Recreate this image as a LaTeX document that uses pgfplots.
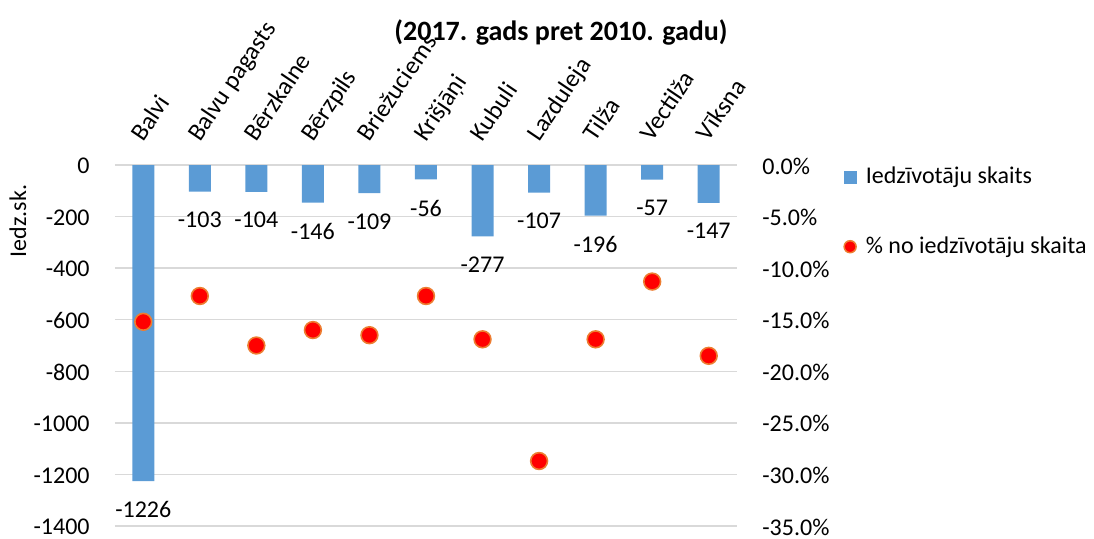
\documentclass[border=0pt]{standalone}
\usepackage{fontspec}
\setmainfont{Carlito}
\usepackage{pgfplots}
\pgfplotsset{compat=1.18}
\definecolor{barblue}{HTML}{5B9BD5}
\definecolor{dotorange}{HTML}{ED7D31}
\definecolor{gridgray}{HTML}{D9D9D9}
\pgfplotsset{/pgf/number format/assume math mode=true, /pgf/number format/1000 sep={}}
\begin{document}
\begin{tikzpicture}[font=\fontsize{12pt}{14pt}\selectfont]
\useasboundingbox (-57.5pt,-6pt) rectangle (489.5pt,263pt);
\begin{axis}[
  at={(0pt,0pt)}, anchor=south west,
  scale only axis, width=311pt, height=180.5pt,
  xmin=-0.5, xmax=10.5, ymin=-1400, ymax=0,
  ytick={-1400,-1200,...,0},
  xtick={0,...,10},
  xticklabels={Balvi, Balvu pagasts, Bērzkalne, Bērzpils, Briežuciems, Krišjāņi, Kubuli, Lazduleja, Tilža, Vectilža, Vīksna},
  xticklabel pos=right,
  xticklabel shift=11pt,
  x tick label style={rotate=56, anchor=base west, inner sep=0pt, font=\fontsize{12.5pt}{14pt}\selectfont},
  y tick label style={anchor=east, inner sep=0pt, xshift=-12.5pt, yshift=-0.5pt},
  axis line style={draw=none},
  major tick length=0pt,
  ymajorgrids, grid style={gridgray, line width=0.75pt},
  ylabel={Iedz.sk.},
  ylabel style={at={(axis description cs:-0.156,0.845)}, anchor=center},
  legend style={at={(axis description cs:1.1704,0.995)}, anchor=north west, draw=none, fill=none,
    inner sep=0pt, row sep=25pt, nodes={inner sep=0pt, anchor=west},
    /tikz/every odd column/.append style={column sep=4.5pt}},
  legend cell align=left,
]
\addplot[ybar, bar width=11pt, bar shift=0pt, fill=barblue, draw=none,
  nodes near coords, nodes near coords style={anchor=north, yshift=-10pt, black, inner sep=0pt},
  legend image code/.code={\fill[barblue] (0pt,-3.25pt) rectangle (6.5pt,3.25pt);}]
  coordinates {(0,-1226) (1,-103) (2,-104) (3,-146) (4,-109) (5,-56) (6,-277) (7,-107) (8,-196) (9,-57) (10,-147)};
\addlegendentry{Iedzīvotāju skaits}
\addlegendimage{legend image code/.code={\draw[fill=red, draw=dotorange, line width=0.75pt] (3.25pt,0pt) circle (3pt);}}
\addlegendentry{\% no iedzīvotāju skaita}
\end{axis}
\begin{axis}[
  at={(0pt,0pt)}, anchor=south west,
  scale only axis, width=311pt, height=180.5pt,
  xmin=-0.5, xmax=10.5, ymin=-35, ymax=0,
  ytick={-35,-30,...,0},
  xtick=\empty,
  yticklabel pos=right,
  yticklabel={\pgfmathprintnumber[fixed, fixed zerofill, precision=1]{\tick}\%},
  y tick label style={anchor=west, inner sep=0pt, xshift=12.5pt, yshift=-0.5pt},
  axis line style={draw=none},
  major tick length=0pt,
]
\addplot[only marks, mark=*, mark size=4.2pt, mark options={fill=red, draw=dotorange, line width=0.8pt}]
  coordinates {(0,-15.2) (1,-12.7) (2,-17.5) (3,-16.0) (4,-16.5) (5,-12.7) (6,-16.9) (7,-28.7) (8,-16.9) (9,-11.3) (10,-18.5)};
\end{axis}
\node[font=\bfseries\fontsize{14pt}{16pt}\selectfont] at (223pt,247pt) {(2017. gads pret 2010. gadu)};
\end{tikzpicture}
\end{document}
